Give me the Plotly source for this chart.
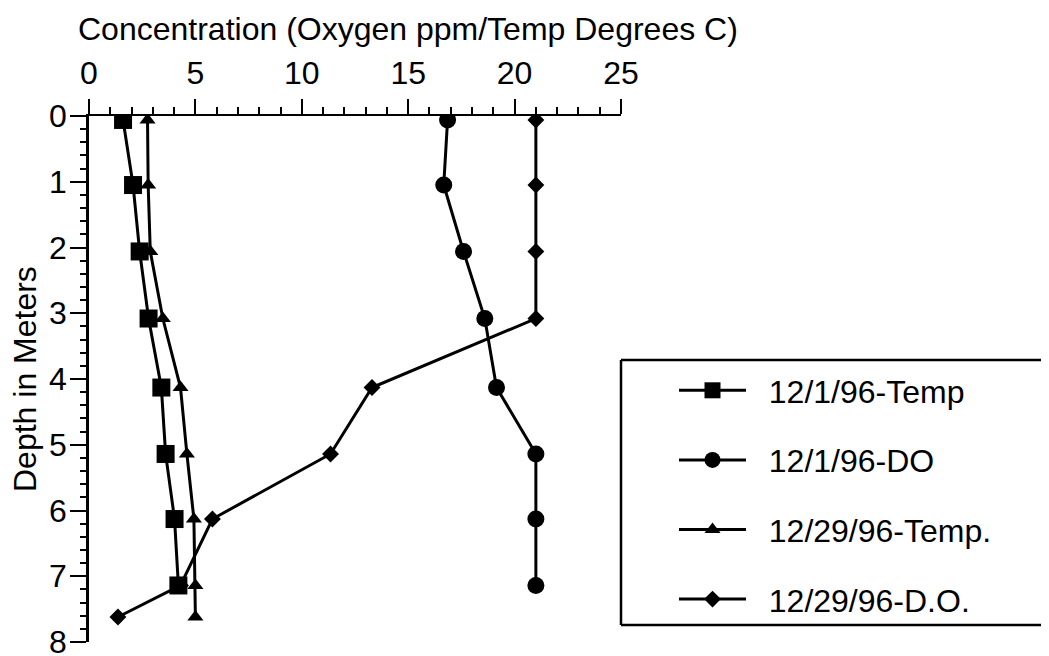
import plotly.graph_objects as go

# Data
depth = [0.06, 1.05, 2.06, 3.08, 4.13, 5.14, 6.13, 7.14]
depth_ext = [0.06, 1.05, 2.06, 3.08, 4.13, 5.14, 6.13, 7.14, 7.62]

temp_1201 = [1.6, 2.07, 2.38, 2.8, 3.4, 3.6, 4.02, 4.2]
do_1201 = [16.85, 16.67, 17.6, 18.6, 19.15, 21.0, 21.0, 21.0]
temp_1229 = [2.75, 2.78, 2.88, 3.47, 4.3, 4.6, 4.93, 5.0, 5.0]
do_1229 = [21.0, 21.0, 21.0, 21.0, 13.3, 11.35, 5.8, 4.3, 1.36]

names = ["12/1/96-Temp", "12/1/96-DO", "12/29/96-Temp.", "12/29/96-D.O."]

x_tick_vals = [0, 5, 10, 15, 20, 25]
y_tick_vals = [0, 1, 2, 3, 4, 5, 6, 7, 8]

FONT = "Liberation Sans, Arial, sans-serif"
FS = 32
PAD = "\u00a0\u00a0"

# the page body adds an 8px offset; margins below compensate for it
fig = go.Figure()
series = [
    (temp_1201, depth, "square", 18),
    (do_1201, depth, "circle", 17),
    (temp_1229, depth_ext, "triangle-up", 14),
    (do_1229, depth_ext, "diamond", 13),
]
for i, ((xs, ys, sym, sz), nm) in enumerate(zip(series, names)):
    fig.add_trace(go.Scatter(
        x=xs, y=ys, name=PAD + nm, mode="lines+markers",
        line=dict(color="black", width=3),
        marker=dict(symbol=sym, size=sz, color="black"),
        legendgroup=f"g{i}",
    ))

fig.update_layout(
    width=1049, height=656,
    margin=dict(l=81, r=436, t=108, b=22),
    paper_bgcolor="white", plot_bgcolor="white",
    font=dict(family=FONT, color="black", size=FS),
    showlegend=True,
    legend=dict(
        x=(674 - 89) / 532, y=(642 - 363) / 526, xanchor="left", yanchor="top",
        bgcolor="rgba(0,0,0,0)", borderwidth=0,
        font=dict(size=FS, family=FONT),
        tracegroupgap=25, itemwidth=67,
    ),
)
fig.update_xaxes(
    side="top", range=[0, 25], tickvals=x_tick_vals,
    showgrid=False, zeroline=False,
    showline=True, linecolor="black", linewidth=2,
    ticks="outside", ticklen=15, tickwidth=2, tickcolor="black",
    minor=dict(dtick=1, ticks="outside", ticklen=7, tickwidth=1.5, tickcolor="black", showgrid=False),
    tickfont=dict(size=FS), ticklabelstandoff=2,
    automargin=False,
)
fig.update_yaxes(
    range=[8, 0], tickvals=y_tick_vals,
    showgrid=False, zeroline=False,
    showline=True, linecolor="black", linewidth=2.5,
    ticks="outside", ticklen=16, tickwidth=2, tickcolor="black",
    minor=dict(dtick=0.2, ticks="outside", ticklen=6, tickwidth=1.5, tickcolor="black", showgrid=False),
    tickfont=dict(size=FS), ticklabelstandoff=-3, ticklabeloverflow="allow",
    automargin=False,
)

# Axis titles
fig.add_annotation(
    text="Concentration (Oxygen ppm/Temp Degrees C)", xref="paper", yref="paper",
    x=(76 - 89) / 532, y=1 + (116 - 29) / 526, xanchor="left", yanchor="middle",
    showarrow=False, font=dict(size=FS, family=FONT),
)
fig.add_annotation(
    text="Depth in Meters", xref="paper", yref="paper",
    x=(25 - 89) / 532, y=0.5, xanchor="center", yanchor="middle", textangle=-90,
    showarrow=False, font=dict(size=FS, family=FONT),
)

# Legend border (open to the right: the box runs past the picture's edge)
bx0, bx1 = (621 - 89) / 532, (1100 - 89) / 532
by0, by1 = (642 - 625) / 526, (642 - 360) / 526
for (a, b, c, d) in [(bx0, by0, bx1, by0), (bx0, by1, bx1, by1), (bx0, by0, bx0, by1)]:
    fig.add_shape(
        type="line", xref="paper", yref="paper", x0=a, y0=b, x1=c, y1=d,
        line=dict(color="black", width=2.5),
    )

fig.write_html("out.html")
